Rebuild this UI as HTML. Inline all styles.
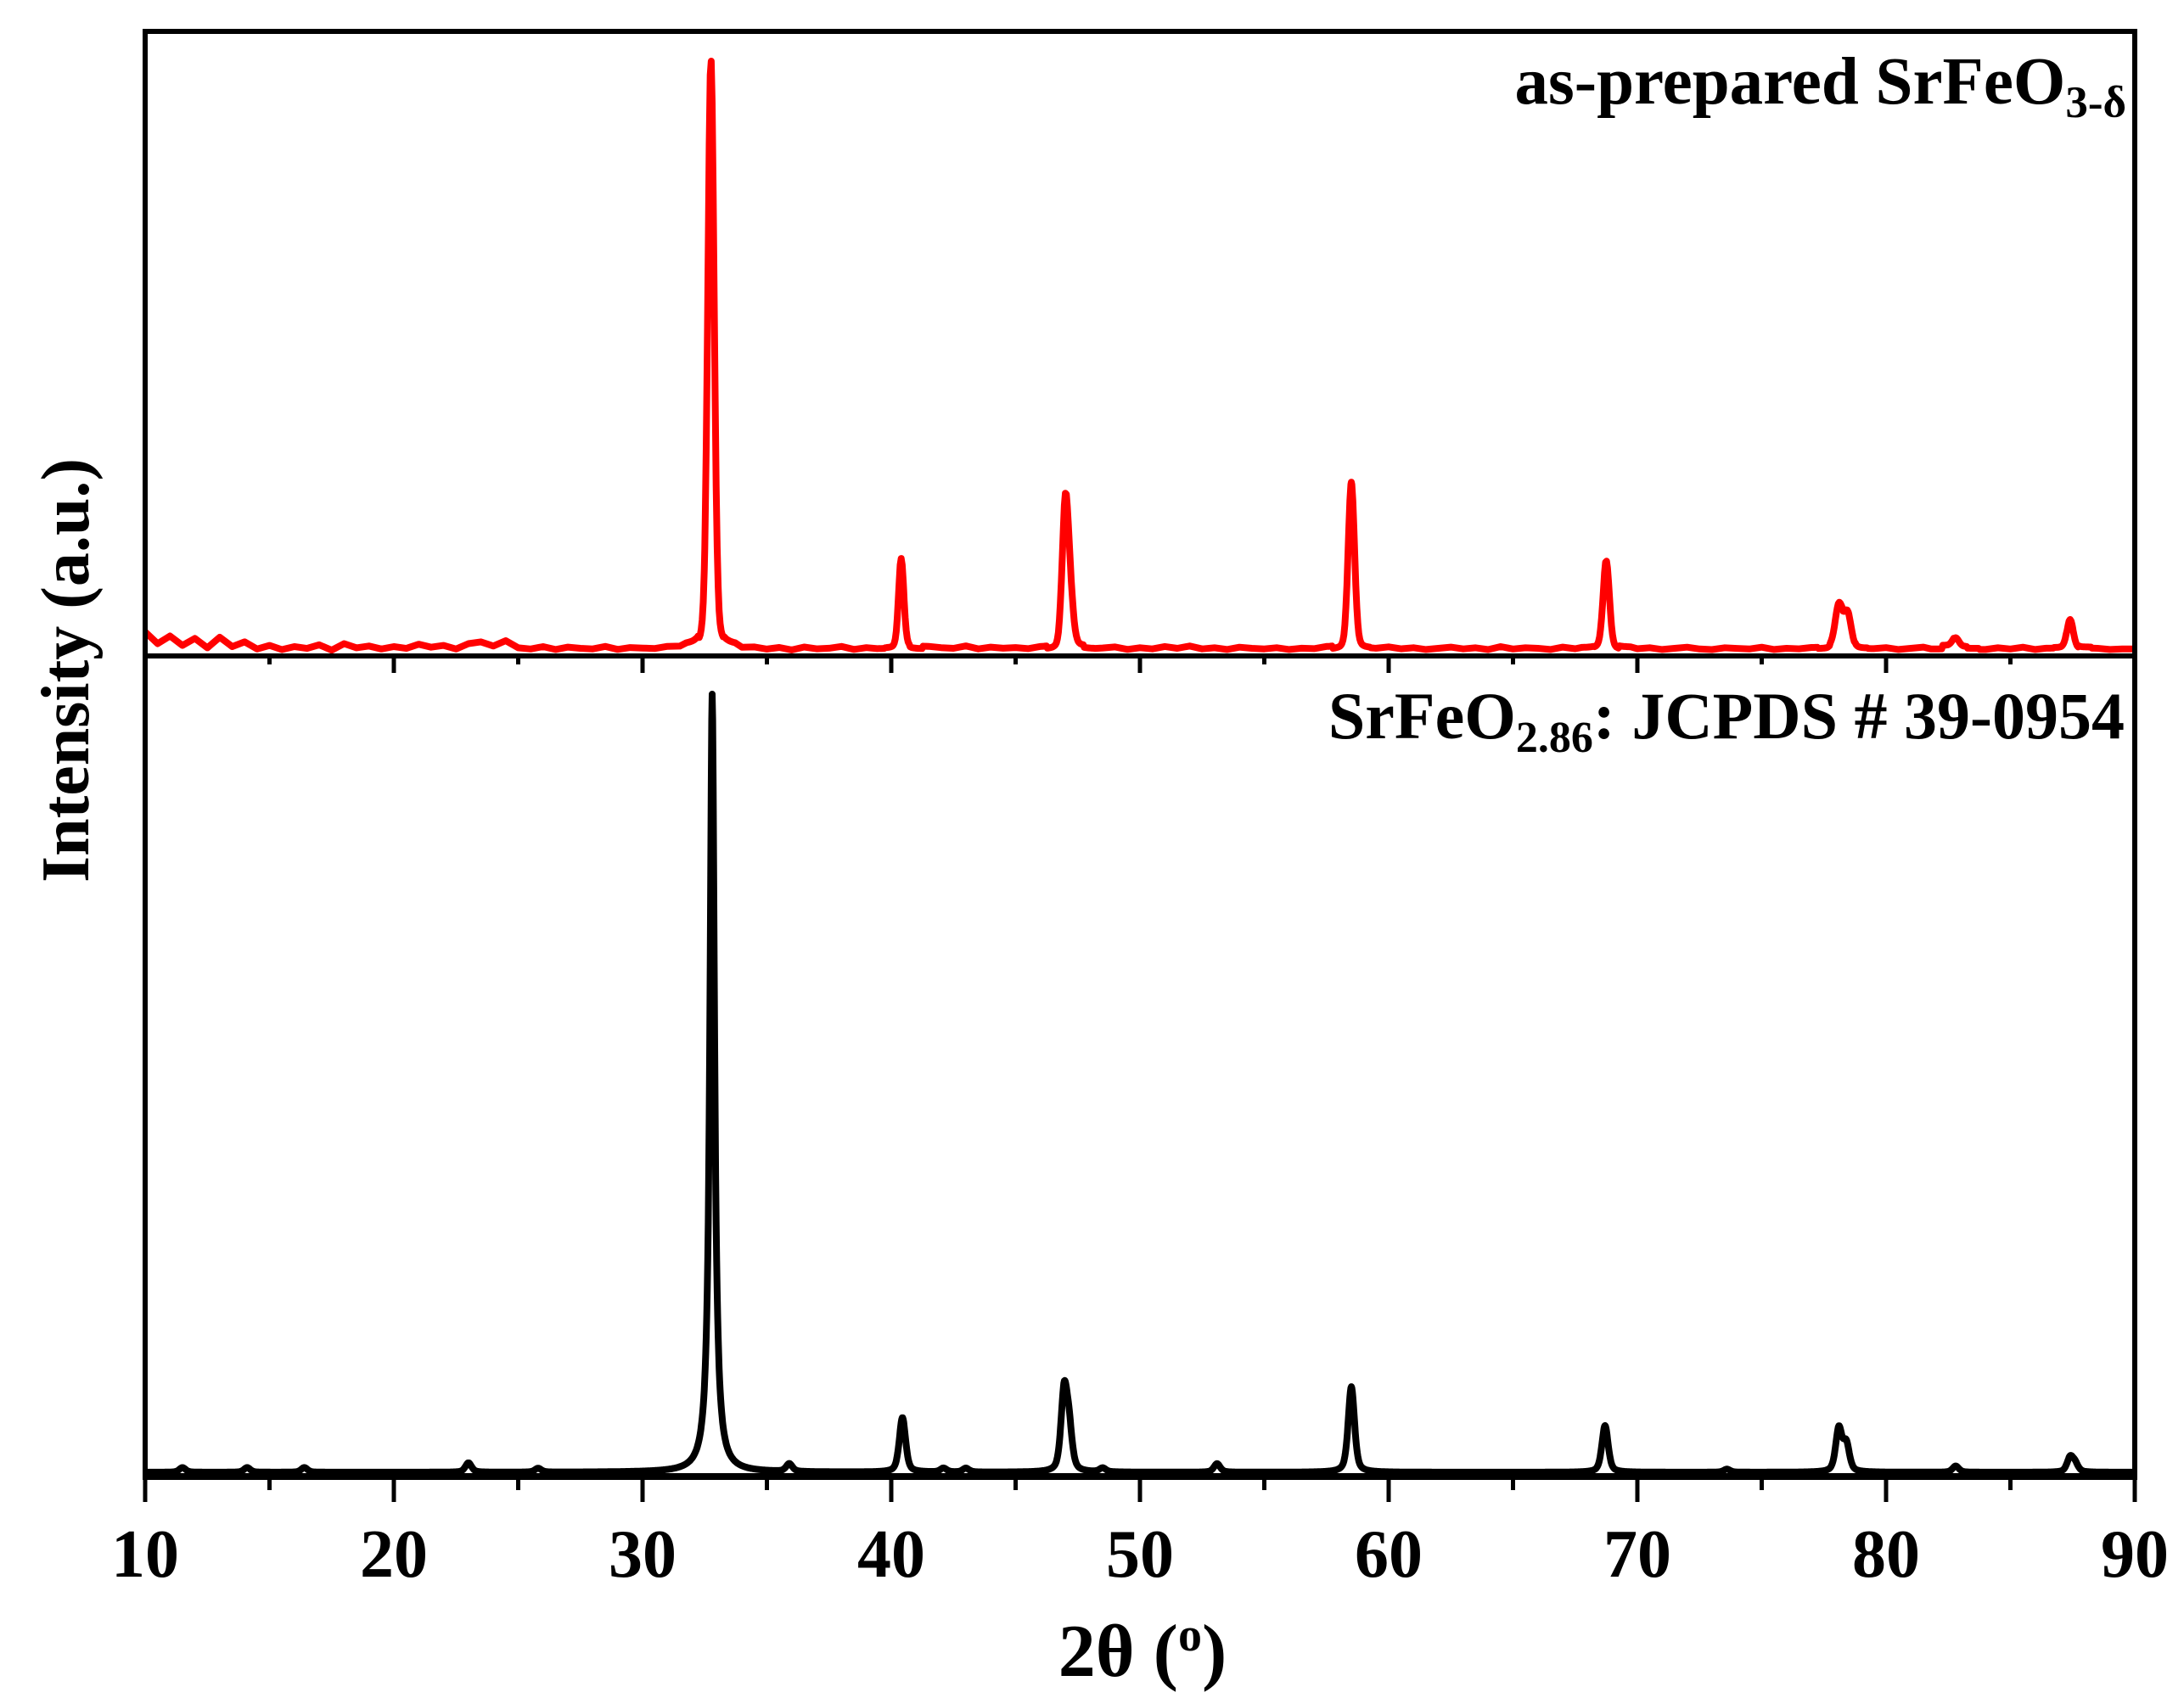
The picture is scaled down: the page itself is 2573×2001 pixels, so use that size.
<!DOCTYPE html>
<html><head><meta charset="utf-8"><style>
html,body{margin:0;padding:0;background:#fff;}
svg{display:block;}
text{font-family:"Liberation Serif",serif;font-weight:bold;fill:#000;}
</style></head><body>
<svg id="chart" width="2573" height="2001" viewBox="0 0 2573 2001" xmlns="http://www.w3.org/2000/svg">
<g id="plot"></g>
<g id="axes"></g>
<text x="2505" y="122" font-size="79" text-anchor="end">as-prepared SrFeO<tspan font-size="53" dy="16">3-δ</tspan></text>
<text x="2503" y="870" font-size="78" text-anchor="end">SrFeO<tspan font-size="52" dy="16">2.86</tspan><tspan dy="-16">: JCPDS # 39-0954</tspan></text>
<text x="1346" y="1975" font-size="88" text-anchor="middle">2θ (<tspan font-size="56" dy="-30">o</tspan><tspan dy="30">)</tspan></text>
<text transform="translate(104,790) rotate(-90)" font-size="80" text-anchor="middle">Intensity (a.u.)</text>
</svg>
<script>
const xTicks=[10,20,30,40,50,60,70,80,90];
const xMinor=[15,25,35,45,55,65,75,85];
const redPos=[32.75,40.4,47.0,47.2,58.5,68.75,78.1,78.45,87.4,82.8];
const redHeight=[100,15,24,7,28,15,7,6,5,1.5];
const redWidth=[0.3,0.25,0.3,0.3,0.3,0.3,0.35,0.35,0.3,0.3];
const blackPos=[32.8,40.45,46.95,47.15,58.5,68.7,78.1,78.4,87.4,87.6,53.1,35.9,23.0,11.5,14.1,16.4,25.8,42.1,43.0,48.5,73.6,82.8];
const blackHeight=[100,7,10,5,11,6,5.5,3.5,1.8,1,1.1,1,1.2,0.6,0.6,0.6,0.5,0.5,0.5,0.5,0.4,0.8];
const redNoise=[3.5,1.5,2.8,1.2,2.4,0.8,2.6,1.0,1.8,0.6,
1.2,0.5,1.0,0.7,1.3,0.4,1.5,0.8,1.1,0.6,
1.0,0.7,1.4,0.9,1.2,0.6,1.5,1.8,1.1,2.0,
0.8,0.6,1.0,0.5,0.9,0.7,0.6,1.0,0.5,0.8,
0.7,0.6,0.9,0.8,1.2,0.6,0.9,1.2,0.6,0.8,
0.5,0.8,0.4,0.9,0.6,0.7,1.0,0.5,0.8,0.6,
0.7,0.9,0.6,1.0,0.8,0.7,1.1,0.6,0.9,0.7,
0.8,0.6,0.9,0.5,0.8,1.0,0.6,0.7,0.9,0.5,
0.8,0.6,1.0,0.7,1.1,0.6,0.8,0.5,0.9,0.7,
0.6,0.8,0.5,0.7,0.6,0.9,0.5,0.8,0.7,0.6,
0.9,0.6,0.8,0.5,0.7,0.9,0.6,0.8,0.5,1.0,
0.6,0.8,0.7,0.5,0.9,0.6,0.8,0.7,0.5,0.9,
0.6,0.8,0.5,0.7,0.9,0.6,0.5,0.8,0.7,0.6,
0.9,0.5,0.7,0.6,0.8,0.6,0.9,0.5,0.7,0.6,
0.8,0.5,0.7,0.9,0.6,1.2,1.0,0.7,0.5,0.8,
0.6,0.9,0.5,0.7,0.8,0.6,0.9,0.7,0.5,0.6];
const noiseStart=10, noiseStep=0.5;

const L=171,R=2515,TOP=37,MID=773,BOT=1740;
function xs(v){return L+(v-10)/80*(R-L);}
function yTop(i){return MID-4-i/100*(MID-4-72);}
function yBot(i){return BOT-5-i/100*(BOT-5-818);}
function gauss(x,p,w){return Math.exp(-4*Math.LN2*Math.pow((x-p)/w,2));}
function lor(x,p,w){return 1/(1+Math.pow(2*(x-p)/w,2));}
const NS='http://www.w3.org/2000/svg';
const plot=document.getElementById('plot'), axes=document.getElementById('axes');
function mk(tag,attrs,parent){const e=document.createElementNS(NS,tag);for(const k in attrs)e.setAttribute(k,attrs[k]);parent.appendChild(e);return e;}

let grid=[];
for(let i=0;i<redNoise.length;i++)grid.push(noiseStart+i*noiseStep);
for(let v=10;v<=90;v+=0.04){if(redPos.some(p=>Math.abs(v-p)<1.0))grid.push(v);}
grid.push(90);
grid.sort((a,b)=>a-b);
let rp=[];
grid.forEach(v=>{
  let idx=Math.min(redNoise.length-1,Math.round((v-noiseStart)/noiseStep));
  let s=redNoise[idx];
  redPos.forEach((p,k)=>{s+=redHeight[k]*(0.8*gauss(v,p,redWidth[k])+0.2*lor(v,p,redWidth[k]));});
  rp.push(xs(v).toFixed(1)+','+yTop(Math.min(s,100)).toFixed(1));
});
const red=mk('polyline',{points:rp.join(' '),fill:'none',stroke:'#ff0000','stroke-width':8,'stroke-linejoin':'round'},plot);



let bp=[];
for(let v=10;v<=90.001;v+=0.02){
  let s=0;
  blackPos.forEach((p,k)=>{const w=k===0?0.22:0.3;s+=blackHeight[k]*(k===0?lor(v,p,w):0.5*gauss(v,p,w)+0.5*lor(v,p,w));});
  bp.push(xs(v).toFixed(1)+','+yBot(Math.min(s,100)).toFixed(1));
}
const blk=mk('polyline',{points:bp.join(' '),fill:'none',stroke:'#000','stroke-width':8,'stroke-linejoin':'round'},plot);



const fr=mk('rect',{x:L,y:TOP,width:R-L,height:BOT-TOP,fill:'none',stroke:'#000','stroke-width':6},axes);


const dv=mk('line',{x1:L,x2:R,y1:MID,y2:MID,stroke:'#000','stroke-width':6},axes);


const bx=mk('line',{x1:L-3,x2:R+3,y1:BOT,y2:BOT,stroke:'#000','stroke-width':8},axes);



xTicks.forEach(t=>{
  const a=mk('line',{x1:xs(t),x2:xs(t),y1:BOT,y2:BOT+30,stroke:'#000','stroke-width':5},axes);
  
  
  const b=mk('line',{x1:xs(t),x2:xs(t),y1:MID,y2:MID+20,stroke:'#000','stroke-width':5},axes);
  
  
  const lb=mk('text',{x:xs(t),y:1858,'font-size':80,'text-anchor':'middle'},axes);
  lb.textContent=t;
  
  
});
xMinor.forEach(t=>{
  const a=mk('line',{x1:xs(t),x2:xs(t),y1:BOT,y2:BOT+16,stroke:'#000','stroke-width':5},axes);
  
  
  const b=mk('line',{x1:xs(t),x2:xs(t),y1:MID,y2:MID+10,stroke:'#000','stroke-width':5},axes);
  
  
});
</script>
</body></html>
